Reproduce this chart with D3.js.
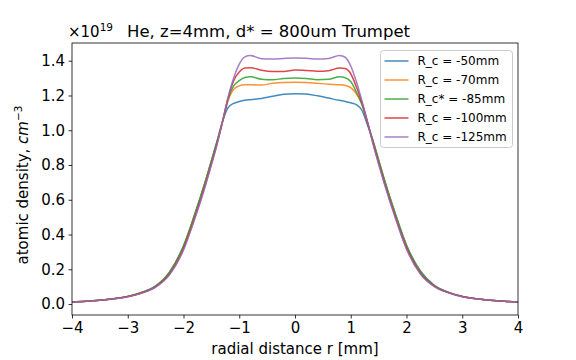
<!DOCTYPE html>
<html>
<head>
<meta charset="utf-8">
<script src="https://cdn.jsdelivr.net/npm/d3@7"></script>
<style>
  body { margin: 0; background: #fff; }
  text { font-family: "DejaVu Sans", sans-serif; }
</style>
</head>
<body>
<div id="chart"></div>
<script>
// radial positions [mm], shared by all series
const radius = [-4, -3.75, -3.5, -3.25, -3, -2.75, -2.5, -2.25, -2, -1.8, -1.6, -1.5, -1.4, -1.3, -1.2, -1.1, -1.0, -0.9, -0.8, -0.6, -0.4, -0.2,
  0, 0.2, 0.4, 0.6, 0.8, 0.9, 1.0, 1.1, 1.2, 1.3, 1.4, 1.5, 1.6, 1.8, 2, 2.25, 2.5, 2.75, 3, 3.25, 3.5, 3.75, 4];

// density in units of 1e19 cm^-3
const rc50 = [0.012, 0.016, 0.022, 0.031, 0.044, 0.067, 0.104, 0.185, 0.335, 0.515, 0.715, 0.825, 0.935, 1.05, 1.13, 1.155, 1.165, 1.172, 1.176, 1.183, 1.195, 1.207,
  1.21, 1.208, 1.198, 1.185, 1.172, 1.166, 1.158, 1.148, 1.115, 1.03, 0.94, 0.83, 0.72, 0.52, 0.34, 0.19, 0.107, 0.068, 0.044, 0.031, 0.022, 0.016, 0.012];
const rc70 = [0.012, 0.016, 0.022, 0.031, 0.044, 0.066, 0.102, 0.18, 0.33, 0.51, 0.71, 0.82, 0.93, 1.05, 1.17, 1.235, 1.255, 1.262, 1.262, 1.26, 1.27, 1.275,
  1.276, 1.275, 1.27, 1.265, 1.262, 1.258, 1.245, 1.21, 1.15, 1.045, 0.935, 0.825, 0.715, 0.515, 0.335, 0.185, 0.105, 0.067, 0.044, 0.031, 0.022, 0.016, 0.012];
const rc85 = [0.012, 0.016, 0.022, 0.031, 0.044, 0.066, 0.102, 0.182, 0.332, 0.512, 0.712, 0.822, 0.932, 1.05, 1.18, 1.255, 1.285, 1.303, 1.308, 1.293, 1.29, 1.298,
  1.30, 1.298, 1.291, 1.293, 1.308, 1.302, 1.28, 1.22, 1.15, 1.045, 0.935, 0.825, 0.715, 0.515, 0.335, 0.186, 0.106, 0.067, 0.044, 0.031, 0.022, 0.016, 0.012];
const rc100 = [0.012, 0.016, 0.022, 0.030, 0.043, 0.064, 0.099, 0.172, 0.318, 0.495, 0.695, 0.805, 0.92, 1.05, 1.185, 1.285, 1.335, 1.358, 1.36, 1.345, 1.338, 1.338,
  1.346, 1.344, 1.34, 1.343, 1.358, 1.355, 1.325, 1.25, 1.16, 1.045, 0.925, 0.81, 0.70, 0.50, 0.322, 0.176, 0.102, 0.066, 0.043, 0.030, 0.022, 0.016, 0.012];
const rc125 = [0.012, 0.016, 0.022, 0.030, 0.042, 0.063, 0.097, 0.168, 0.31, 0.488, 0.688, 0.80, 0.915, 1.05, 1.19, 1.30, 1.38, 1.422, 1.43, 1.412, 1.41, 1.413,
  1.415, 1.414, 1.41, 1.413, 1.43, 1.42, 1.37, 1.28, 1.17, 1.05, 0.92, 0.805, 0.695, 0.495, 0.315, 0.172, 0.10, 0.065, 0.042, 0.030, 0.022, 0.016, 0.012];

const seriesNames = ['R_c = -50mm', 'R_c = -70mm', 'R_c* = -85mm', 'R_c = -100mm', 'R_c = -125mm'];
const seriesValues = [rc50, rc70, rc85, rc100, rc125];
const colors = ['#1f77b4', '#ff7f0e', '#2ca02c', '#d62728', '#9467bd'];

const xTicks = [-4, -3, -2, -1, 0, 1, 2, 3, 4];
const yTicks = [0.0, 0.2, 0.4, 0.6, 0.8, 1.0, 1.2, 1.4];

const W = 576, H = 360;
const margin = { top: 43, right: 58, bottom: 45, left: 72 };
const width = W - margin.left - margin.right;
const height = H - margin.top - margin.bottom;

const svg = d3.select('#chart')
  .append('svg')
  .attr('width', W)
  .attr('height', H);

const g = svg.append('g')
  .attr('transform', `translate(${margin.left},${margin.top})`);

const x = d3.scaleLinear().domain([-4, 4]).range([0, width]);
const y = d3.scaleLinear().domain([-0.063, 1.502]).range([height, 0]);

const minus = (s) => s.replace('-', '\u2212');

// x axis
const xAxis = g.append('g')
  .attr('transform', `translate(0,${height})`)
  .call(d3.axisBottom(x).tickValues(xTicks).tickSize(3.5).tickPadding(3.5)
    .tickFormat((d) => minus(d3.format('d')(d))));
xAxis.select('.domain').remove();
xAxis.selectAll('text').style('font-size', '15px').attr('fill', '#000');
xAxis.selectAll('line').attr('stroke', '#000').attr('stroke-width', 0.8);

// y axis
const yAxis = g.append('g')
  .call(d3.axisLeft(y).tickValues(yTicks).tickSize(3.5).tickPadding(3.5)
    .tickFormat(d3.format('.1f')));
yAxis.select('.domain').remove();
yAxis.selectAll('text').style('font-size', '15px').attr('fill', '#000');
yAxis.selectAll('line').attr('stroke', '#000').attr('stroke-width', 0.8);

// lines
const line = d3.line()
  .x((d, i) => x(radius[i]))
  .y((d) => y(d))
  .curve(d3.curveMonotoneX);

g.append('clipPath').attr('id', 'clip')
  .append('rect').attr('width', width).attr('height', height);

seriesValues.forEach((vals, k) => {
  g.append('path')
    .datum(vals)
    .attr('clip-path', 'url(#clip)')
    .attr('fill', 'none')
    .attr('stroke', colors[k])
    .attr('stroke-opacity', 0.85)
    .attr('stroke-width', 1.5)
    .attr('d', line);
});

// frame
g.append('rect')
  .attr('width', width)
  .attr('height', height)
  .attr('fill', 'none')
  .attr('stroke', '#000')
  .attr('stroke-width', 0.8);

// legend
const legend = g.append('g').attr('transform', `translate(${380.5 - margin.left},${50.5 - margin.top})`);
legend.append('rect')
  .attr('width', 132)
  .attr('height', 97)
  .attr('rx', 3)
  .attr('fill', '#fff')
  .attr('fill-opacity', 0.8)
  .attr('stroke', '#ccc')
  .attr('stroke-width', 1);
seriesNames.forEach((name, k) => {
  const yy = 10.5 + k * 19;
  legend.append('line')
    .attr('x1', 4).attr('x2', 28)
    .attr('y1', yy).attr('y2', yy)
    .attr('stroke', colors[k])
    .attr('stroke-opacity', 0.85)
    .attr('stroke-width', 1.5);
  legend.append('text')
    .attr('x', 37)
    .attr('y', yy + 4.2)
    .style('font-size', '12px')
    .attr('fill', '#000')
    .text(name);
});

// offset text ×10^19
const off = svg.append('text')
  .attr('x', 68)
  .attr('y', 37)
  .style('font-size', '15px')
  .attr('fill', '#000');
off.append('tspan').text('\u00d710');
off.append('tspan').attr('dy', -6).style('font-size', '10.5px').text('19');

// title
svg.append('text')
  .attr('x', 127)
  .attr('y', 37)
  .style('font-size', '16.5px')
  .attr('fill', '#000')
  .text('He, z=4mm, d* = 800um Trumpet');

// x label
svg.append('text')
  .attr('x', margin.left + width / 2)
  .attr('y', 354)
  .attr('text-anchor', 'middle')
  .style('font-size', '15px')
  .attr('fill', '#000')
  .text('radial distance r [mm]');

// y label
const yl = svg.append('text')
  .attr('transform', `translate(28,${margin.top + height / 2 + 6}) rotate(-90)`)
  .attr('text-anchor', 'middle')
  .style('font-size', '15px')
  .attr('fill', '#000');
yl.append('tspan').text('atomic density, ');
yl.append('tspan').style('font-style', 'italic').text('cm');
yl.append('tspan').attr('dy', -6).style('font-size', '10.5px').text('\u22123');
</script>
</body>
</html>
